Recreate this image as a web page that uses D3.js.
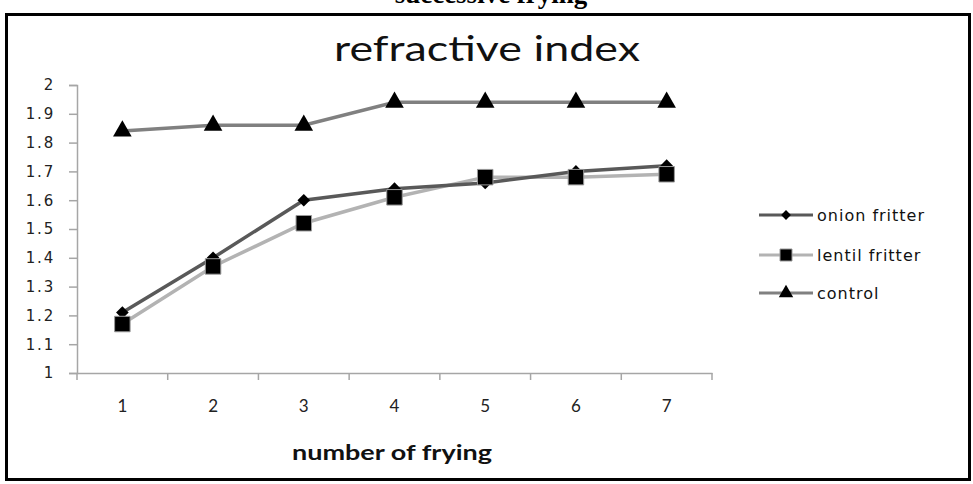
<!DOCTYPE html>
<html><head><meta charset="utf-8">
<script src="https://cdn.jsdelivr.net/npm/d3@7"></script>
<style>body{margin:0;background:#fff}svg{display:block}</style>
</head><body>
<script>
const categories = ["1","2","3","4","5","6","7"];
const onionFritter = [1.21, 1.40, 1.60, 1.64, 1.66, 1.70, 1.72];
const lentilFritter = [1.17, 1.37, 1.52, 1.61, 1.68, 1.68, 1.69];
const control = [1.84, 1.86, 1.86, 1.94, 1.94, 1.94, 1.94];
const yTicks = [1, 1.1, 1.2, 1.3, 1.4, 1.5, 1.6, 1.7, 1.8, 1.9, 2];
const seriesNames = ["onion fritter", "lentil fritter", "control"];

const W = 973, H = 484;
const svg = d3.select("body").append("svg").attr("width", W).attr("height", H);

// header text cut off at top (as in the reference)
svg.append("text").attr("x", 491).attr("y", 3).attr("text-anchor", "middle")
  .attr("font-family", "Liberation Serif").attr("font-weight", "bold").attr("font-size", 27)
  .text("successive frying");

// frame
svg.append("rect").attr("x", 6.5).attr("y", 14.5).attr("width", 963).attr("height", 465)
  .attr("fill", "#fff").attr("stroke", "#000").attr("stroke-width", 3);

const x = d3.scaleBand().domain(categories).range([77, 712]);
const y = d3.scaleLinear().domain([1, 2]).range([373, 85]);

// title
svg.append("text").attr("x", 487).attr("y", 61).attr("text-anchor", "middle")
  .attr("font-family", "Lato").attr("font-size", 35).attr("fill", "#111")
  .attr("textLength", 306).attr("lengthAdjust", "spacingAndGlyphs")
  .text("refractive index");

// y axis
const yAxis = svg.append("g").attr("transform", "translate(77,0)")
  .call(d3.axisLeft(y).tickValues(yTicks).tickSize(8).tickPadding(14).tickFormat(d => String(+d.toFixed(1))));
yAxis.select(".domain").attr("stroke", "#a6a6a6").attr("stroke-width", 1.5);
yAxis.selectAll(".tick line").attr("stroke", "#a6a6a6").attr("stroke-width", 1.5);
yAxis.selectAll(".tick text").attr("font-family", "DejaVu Sans").attr("font-size", 15)
  .attr("fill", "#222").attr("letter-spacing", 1.8);

// x axis
const xAxis = svg.append("g").attr("transform", "translate(0,373)")
  .call(d3.axisBottom(x).tickSize(0).tickPadding(27));
xAxis.select(".domain").attr("stroke", "#a6a6a6").attr("stroke-width", 1.5);
xAxis.selectAll(".tick text").attr("font-family", "Lato").attr("font-size", 17).attr("fill", "#222");
const bounds = categories.map(c => x(c)).concat([x.range()[1]]);
xAxis.selectAll(".sep").data(bounds).join("line").attr("class", "sep")
  .attr("x1", d => d).attr("x2", d => d).attr("y1", 0).attr("y2", 7)
  .attr("stroke", "#a6a6a6").attr("stroke-width", 1.5);

svg.append("text").attr("x", 392).attr("y", 460).attr("text-anchor", "middle")
  .attr("font-family", "Lato").attr("font-size", 20).attr("font-weight", "bold").attr("fill", "#111")
  .attr("textLength", 200).attr("lengthAdjust", "spacingAndGlyphs")
  .text("number of frying");

const cx = c => x(c) + x.bandwidth() / 2;
const series = [
  { name: seriesNames[0], values: onionFritter, color: "#595959", sym: d3.symbolSquare, size: 80, rot: 45 },
  { name: seriesNames[1], values: lentilFritter, color: "#b3b3b3", sym: d3.symbolSquare, size: 240, rot: 0 },
  { name: seriesNames[2], values: control, color: "#808080", sym: d3.symbolTriangle, size: 150, rot: 0 }
];
const line = d3.line().x((d, i) => cx(categories[i])).y(d => y(d));

[series[2], series[1], series[0]].forEach(s => {
  svg.append("path").datum(s.values).attr("d", line).attr("fill", "none")
    .attr("stroke", s.color).attr("stroke-width", 3.5);
});
[series[2], series[0], series[1]].forEach(s => {
  svg.selectAll(null).data(s.values).join("path")
    .attr("transform", (d, i) => `translate(${cx(categories[i])},${y(d)}) rotate(${s.rot})`)
    .attr("d", d3.symbol().type(s.sym).size(s.size))
    .attr("fill", "#000").attr("stroke", s.rot === 0 && s.sym === d3.symbolSquare ? "#999" : "none").attr("stroke-width", 1);
});

// legend
const legY = [215, 255, 293];
series.forEach((s, i) => {
  const g = svg.append("g").attr("transform", `translate(0,${legY[i]})`);
  g.append("line").attr("x1", 759).attr("x2", 813).attr("y1", 0).attr("y2", 0)
    .attr("stroke", s.color).attr("stroke-width", 3);
  g.append("path").attr("transform", `translate(786,0) rotate(${s.rot})`)
    .attr("d", d3.symbol().type(s.sym).size(s.size * 0.6))
    .attr("fill", "#000").attr("stroke", s.rot === 0 && s.sym === d3.symbolSquare ? "#999" : "none");
  g.append("text").attr("x", 817).attr("y", 6).attr("font-family", "DejaVu Sans").attr("font-size", 16)
    .attr("fill", "#111").attr("letter-spacing", 1).text(s.name);
});
</script>
</body></html>
